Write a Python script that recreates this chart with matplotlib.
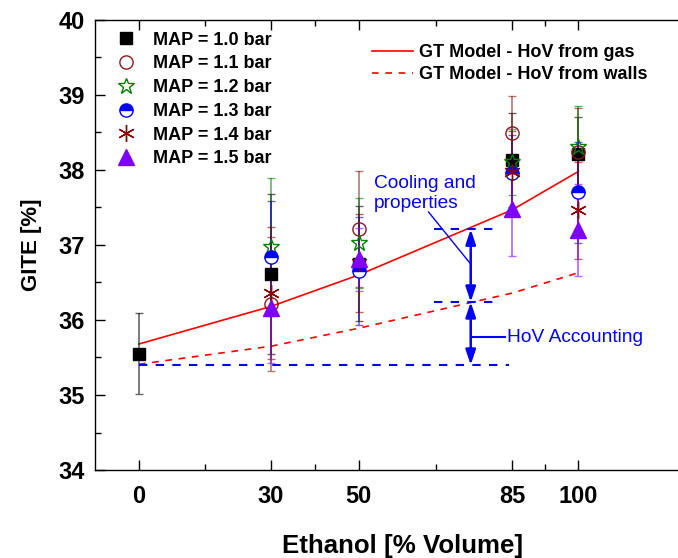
import matplotlib
matplotlib.use('Agg')
import matplotlib.pyplot as plt
from matplotlib.lines import Line2D

plt.rcParams['font.family'] = 'Liberation Sans'

# Datos experimentales (GITE [%] frente a % de etanol)
etanol = [0, 30, 50, 85, 100]
etanol_b = [30, 50, 85, 100]

gite_10 = [35.55, 36.61, 36.75, 38.13, 38.21]
err_10 = [0.54, 1.07, 0.77, 0.63, 0.50]
gite_11 = [36.21, 37.21, 38.49, 38.24]
err_11 = [0.89, 0.77, 0.49, 0.58]
gite_12 = [36.97, 37.02, 38.11, 38.31]
err_12 = [0.92, 0.60, 0.44, 0.54]
gite_13 = [36.84, 36.65, 37.96, 37.70]
err_13 = [0.75, 0.72, 0.50, 0.67]
gite_14 = [36.36, 36.76, 37.97, 37.46]
err_14 = [0.88, 0.65, 0.55, 0.65]
gite_15 = [36.16, 36.81, 37.48, 37.20]
err_15 = [0.73, 0.42, 0.63, 0.61]

# Modelo GT
modelo_gas = [35.68, 36.18, 36.60, 37.47, 37.98]
modelo_paredes = [35.41, 35.65, 35.89, 36.36, 36.63]

fig = plt.figure(figsize=(6.78, 5.58), dpi=100)
ax = fig.add_axes([0.1401, 0.1577, 0.9074, 0.8065])

series = [
    (etanol, gite_10, err_10, 'MAP = 1.0 bar', dict(marker='s', color='k', mfc='k', ms=9)),
    (etanol_b, gite_11, err_11, 'MAP = 1.1 bar', dict(marker='o', color='#8B1A1A', mfc='none', ms=9.5)),
    (etanol_b, gite_12, err_12, 'MAP = 1.2 bar', dict(marker='*', color='#008000', mfc='none', ms=12)),
    (etanol_b, gite_13, err_13, 'MAP = 1.3 bar', dict(marker='o', color='#0000FF', mfc='#0000FF',
                                                     fillstyle='top', mfcalt='white', ms=9.5)),
    (etanol_b, gite_14, err_14, 'MAP = 1.4 bar', dict(marker=(6, 2, 0), color='#8B0000', ms=12)),
    (etanol_b, gite_15, err_15, 'MAP = 1.5 bar', dict(marker='^', color='#8000FF', mfc='#8000FF', ms=11)),
]

handles = []
for xs, ys, es, etiqueta, estilo in series:
    c = estilo['color']
    ax.errorbar(xs, ys, yerr=es, fmt='none', ecolor=c, elinewidth=1.2, capsize=3,
                capthick=1, alpha=0.6, zorder=2)
    kw = dict(estilo)
    kw.pop('color')
    ax.plot(xs, ys, linestyle='none', mec=c, mew=1, zorder=3, **kw)
    handles.append(Line2D([], [], linestyle='none', mec=c, mew=1, **kw))

l_gas, = ax.plot(etanol, modelo_gas, color='red', lw=1.2, zorder=1)
l_par, = ax.plot(etanol, modelo_paredes, color='red', lw=1.2, ls=(0, (4, 4)), zorder=1)

# Anotaciones
azul = '#0000FF'
ax.plot([0, 84.1], [35.4, 35.4], color=azul, lw=1.5, ls=(0, (4, 4)))
ax.plot([67.1, 81.2], [37.21, 37.21], color=azul, lw=1.5, ls=(0, (4, 4)))
ax.plot([67.1, 81.2], [36.24, 36.24], color=azul, lw=1.5, ls=(0, (4, 4)))
flecha = dict(arrowstyle='<|-|>,head_length=0.45,head_width=0.15', color=azul, lw=1.8,
              mutation_scale=20, shrinkA=0, shrinkB=0)
ax.annotate('', xy=(75.5, 36.24), xytext=(75.5, 37.21), arrowprops=flecha)
ax.annotate('', xy=(75.5, 35.4), xytext=(75.5, 36.24), arrowprops=flecha)
ax.plot([65.9, 75.3], [37.44, 36.76], color=azul, lw=1)
ax.plot([75.5, 83.4], [35.77, 35.77], color=azul, lw=1.5)
ax.text(53.4, 37.69, 'Cooling and\nproperties', color=azul, fontsize=13.8, va='center', ha='left')
ax.text(83.7, 35.77, 'HoV Accounting', color=azul, fontsize=13.8, va='center', ha='left')

ax.set_xlim(-10, 130)
ax.set_ylim(34, 40)
ax.set_xticks(etanol)
ax.set_xticks([15, 40, 67.5, 92.5], minor=True)
ax.set_yticks(range(34, 41))
ax.set_yticks([34.5 + i for i in range(6)], minor=True)
ax.tick_params(which='both', direction='in', top=True, right=False, width=1)
ax.tick_params(which='major', length=7)
ax.tick_params(which='minor', length=4)
ax.tick_params(axis='x', pad=10.5)
ax.tick_params(axis='y', pad=7)
for lab in ax.get_xticklabels() + ax.get_yticklabels():
    lab.set_fontsize(17)
    lab.set_fontweight('bold')
for s in ax.spines.values():
    s.set_linewidth(1)

ax.set_xlabel('Ethanol [% Volume]', fontsize=18.6, fontweight='bold', labelpad=19)
ax.set_ylabel('GITE [%]', fontsize=16, fontweight='bold', labelpad=12.5)

leg1 = ax.legend(handles, [s[3] for s in series], loc='upper left',
                 bbox_to_anchor=(0.1726, 0.943), bbox_transform=fig.transFigure,
                 frameon=False, borderpad=0, borderaxespad=0, handlelength=1.0,
                 handletextpad=1.0, labelspacing=0.37, prop=dict(size=13, weight='bold'))
ax.add_artist(leg1)
ax.legend([l_gas, l_par], ['GT Model - HoV from gas', 'GT Model - HoV from walls'],
          loc='upper left', bbox_to_anchor=(0.5487, 0.921), bbox_transform=fig.transFigure,
          frameon=False, borderpad=0, borderaxespad=0, handlelength=2.26,
          handletextpad=0.32, labelspacing=0.27, prop=dict(size=13, weight='bold'))

plt.savefig('out.png', dpi=100)
